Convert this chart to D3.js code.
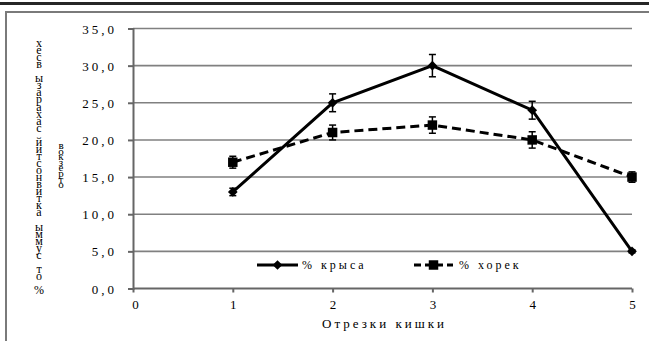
<!DOCTYPE html>
<html>
<head>
<meta charset="utf-8">
<script src="https://cdnjs.cloudflare.com/ajax/libs/d3/7.8.5/d3.min.js"></script>
<style>
  html, body { margin: 0; padding: 0; background: #fff; }
  svg { display: block; }
  svg text { font-family: "Liberation Serif", "Times New Roman", "DejaVu Serif", serif !important; fill: #000; }
</style>
</head>
<body>
<svg id="chart" width="649" height="341"></svg>
<script>
// Intestinal segments (x) and share of activity per segment
const segments = [1, 2, 3, 4, 5];
const ratValues = [13.0, 25.0, 30.0, 24.0, 5.0];
const ratErrors = [0.5, 1.2, 1.5, 1.2, 0.2];
const ferretValues = [17.0, 21.0, 22.0, 20.0, 15.0];
const ferretErrors = [0.8, 1.0, 1.1, 1.1, 0.7];
const xTicks = [0, 1, 2, 3, 4, 5];
const yTicks = [0, 5, 10, 15, 20, 25, 30, 35];
const seriesNames = ["% крыса", "% хорек"];
const xTitle = "Отрезки кишки";
// vertical axis title, written as stacked characters (two columns)
const yTitleCol1 = "хесв ызарахас йитсонвитка ыммус то %";
const yTitleCol2 = "вокзерто";

const svg = d3.select("#chart");

// page frame: heavy rule at the top and a grey border round the chart
svg.append("rect").attr("x", 0).attr("y", 2).attr("width", 649).attr("height", 3).attr("fill", "#262626");
svg.append("rect").attr("x", 6).attr("y", 12).attr("width", 660).attr("height", 360)
  .attr("fill", "none").attr("stroke", "#7a7a7a").attr("stroke-width", 2);

const x = d3.scaleLinear().domain([0, 5]).range([133, 632]);
const y = d3.scaleLinear().domain([0, 35]).range([288.5, 28.5]);
const fmt = v => v.toFixed(1).replace(".", ",");

// horizontal gridlines
svg.append("g").selectAll("line").data(yTicks.filter(d => d > 0)).join("line")
  .attr("x1", x(0)).attr("x2", x(5))
  .attr("y1", d => y(d)).attr("y2", d => y(d))
  .attr("stroke", "#808080").attr("stroke-width", 1.6);

// y axis
const yAxis = svg.append("g").attr("transform", `translate(${x(0)},0)`)
  .call(d3.axisLeft(y).tickValues(yTicks).tickSize(5).tickFormat(fmt));
yAxis.select(".domain").attr("stroke", "#666").attr("stroke-width", 2);
yAxis.selectAll(".tick line").attr("stroke", "#666").attr("stroke-width", 2);
yAxis.selectAll(".tick text")
  .attr("x", -16).attr("dy", "0.35em")
  .style("font-size", "13px").style("letter-spacing", "3px");

// x axis
const xAxis = svg.append("g").attr("transform", `translate(0,${y(0)})`)
  .call(d3.axisBottom(x).tickValues(xTicks).tickSize(4).tickFormat(d3.format("d")));
xAxis.select(".domain").attr("stroke", "#666").attr("stroke-width", 2)
  .attr("d", `M${x(0)},0H${x(5)}`);
xAxis.selectAll(".tick line").attr("stroke", "#666").attr("stroke-width", 2);
xAxis.selectAll(".tick text")
  .attr("y", 11).attr("dy", "0.71em")
  .style("font-size", "13px");
xAxis.selectAll(".tick").filter(d => d === 0).select("text").attr("dx", 2);

// x axis title
svg.append("text").attr("x", (x(0) + x(5)) / 2 + 2).attr("y", 328)
  .attr("text-anchor", "middle")
  .style("font-size", "13px").style("letter-spacing", "3px")
  .text(xTitle);

// y axis title (stacked characters)
svg.append("g").selectAll("text").data(Array.from(yTitleCol1)).join("text")
  .attr("x", 39).attr("y", (d, i) => 47 + i * 7.06)
  .attr("text-anchor", "middle")
  .style("font-size", "12px")
  .text(d => d);
svg.append("g").selectAll("text").data(Array.from(yTitleCol2)).join("text")
  .attr("x", 61).attr("y", (d, i) => 149 + i * 5.6)
  .attr("text-anchor", "middle")
  .style("font-size", "11px")
  .text(d => d);

const rat = segments.map((s, i) => ({ x: s, v: ratValues[i], e: ratErrors[i] }));
const ferret = segments.map((s, i) => ({ x: s, v: ferretValues[i], e: ferretErrors[i] }));
const line = d3.line().x(d => x(d.x)).y(d => y(d.v));

// ferret series: dashed line with square markers
svg.append("path").datum(ferret).attr("d", line)
  .attr("fill", "none").attr("stroke", "#000").attr("stroke-width", 3)
  .attr("stroke-dasharray", "9,5");
// rat series: solid line with diamond markers
svg.append("path").datum(rat).attr("d", line)
  .attr("fill", "none").attr("stroke", "#000").attr("stroke-width", 3);

function errorBars(data) {
  const g = svg.append("g").attr("stroke", "#000").attr("stroke-width", 1.5);
  g.selectAll("line.v").data(data).join("line").attr("class", "v")
    .attr("x1", d => x(d.x)).attr("x2", d => x(d.x))
    .attr("y1", d => y(d.v + d.e)).attr("y2", d => y(d.v - d.e));
  g.selectAll("line.t").data(data).join("line").attr("class", "t")
    .attr("x1", d => x(d.x) - 3.5).attr("x2", d => x(d.x) + 3.5)
    .attr("y1", d => y(d.v + d.e)).attr("y2", d => y(d.v + d.e));
  g.selectAll("line.b").data(data).join("line").attr("class", "b")
    .attr("x1", d => x(d.x) - 3.5).attr("x2", d => x(d.x) + 3.5)
    .attr("y1", d => y(d.v - d.e)).attr("y2", d => y(d.v - d.e));
}
errorBars(ferret);
errorBars(rat);

const squareSym = d3.symbol().type(d3.symbolSquare).size(90);
const diamondSym = d3.symbol().type(d3.symbolDiamond2).size(60);

svg.append("g").selectAll("path").data(ferret).join("path")
  .attr("transform", d => `translate(${x(d.x)},${y(d.v)})`)
  .attr("d", squareSym).attr("fill", "#000");
svg.append("g").selectAll("path").data(rat).join("path")
  .attr("transform", d => `translate(${x(d.x)},${y(d.v)})`)
  .attr("d", diamondSym).attr("fill", "#000");

// legend
const legendY = 265;
const lg = svg.append("g");
lg.append("line").attr("x1", 257).attr("x2", 298).attr("y1", legendY).attr("y2", legendY)
  .attr("stroke", "#000").attr("stroke-width", 3);
lg.append("path").attr("transform", `translate(277.5,${legendY})`).attr("d", diamondSym).attr("fill", "#000");
lg.append("text").attr("x", 302).attr("y", legendY).attr("dy", "0.35em")
  .style("font-size", "12px").style("letter-spacing", "3px").text(seriesNames[0]);

lg.append("line").attr("x1", 414).attr("x2", 453).attr("y1", legendY).attr("y2", legendY)
  .attr("stroke", "#000").attr("stroke-width", 3).attr("stroke-dasharray", "7,4");
lg.append("path").attr("transform", `translate(433.5,${legendY})`).attr("d", squareSym).attr("fill", "#000");
lg.append("text").attr("x", 459).attr("y", legendY).attr("dy", "0.35em")
  .style("font-size", "12px").style("letter-spacing", "3px").text(seriesNames[1]);
</script>
</body>
</html>
